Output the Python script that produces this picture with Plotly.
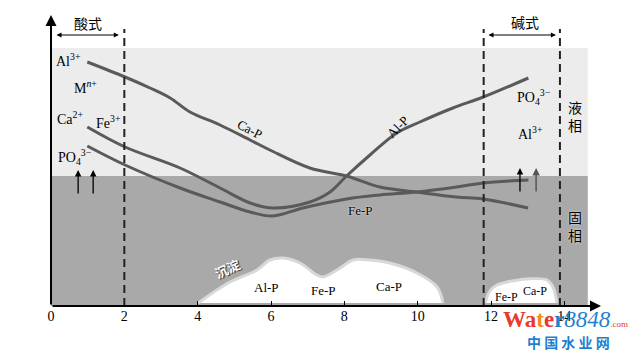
import plotly.graph_objects as go

# ---------------- data ----------------
ph_ticks = [0, 2, 4, 6, 8, 10, 12, 14]

cap_x = [0.99, 2.02, 2.70, 3.25, 3.79, 4.61, 5.43, 5.97, 7.06, 8.06, 8.97, 9.97, 11.06, 11.78, 13.01]
cap_y = [244, 229, 218, 208, 194, 181, 166, 156, 138, 130, 119, 114, 109, 107, 98]

alp_x = [0.99, 2.02, 3.52, 4.61, 5.43, 6.05, 7.06, 7.61, 8.06, 8.70, 9.43, 10.06, 10.96, 11.79, 13.02]
alp_y = [179, 159, 138, 118, 103, 98, 104, 114, 130, 151, 173, 184, 198, 209, 228]

fep_x = [0.99, 2.02, 3.52, 4.61, 5.43, 6.05, 6.87, 8.06, 8.97, 9.97, 11.06, 11.79, 13.02]
fep_y = [160, 141, 118, 104, 94, 90, 98, 107, 111, 114, 119, 123, 126]

blob1_x = [4.01, 4.88, 5.62, 5.97, 6.33, 6.79, 7.25, 7.42, 7.80, 8.24, 8.70, 9.24, 9.98, 10.53, 10.69]
blob1_y = [3, 24, 36, 46, 48, 43, 31, 29, 36, 46, 46, 43, 33, 19, 3]

blob2_x = [11.84, 11.97, 12.16, 12.44, 12.98, 13.53, 13.69, 13.80]
blob2_y = [3, 15, 21, 24, 27, 26, 19, 3]

acid_line = 2.0
base_lines = [11.8, 13.88]

SERIF = "Liberation Serif, Times New Roman, serif"
CJK = "Noto Sans CJK SC"
CURVE = "#5a5a5a"

fig = go.Figure()

# backgrounds
fig.add_shape(type="rect", x0=0, x1=14.64, y0=130, y1=258, fillcolor="#ececec", line_width=0, layer="below")
fig.add_shape(type="rect", x0=0, x1=14.64, y0=0, y1=130, fillcolor="#a9a9a9", line_width=0, layer="below")

# precipitation blobs
for bx, by in [(blob1_x, blob1_y), (blob2_x, blob2_y)]:
    fig.add_trace(go.Scatter(x=bx, y=by, mode="lines", fill="toself", fillcolor="white",
                             line=dict(color="#d8d8d8", width=3, shape="spline", smoothing=1),
                             hoverinfo="skip", showlegend=False))

# curves
for cx, cy in [(cap_x, cap_y), (alp_x, alp_y), (fep_x, fep_y)]:
    fig.add_trace(go.Scatter(x=cx, y=cy, mode="lines",
                             line=dict(color=CURVE, width=3, shape="spline", smoothing=1),
                             hoverinfo="skip", showlegend=False))

# dashed lines
for xv in [acid_line] + base_lines:
    fig.add_shape(type="line", x0=xv, x1=xv, y0=0, y1=277,
                  line=dict(color="#222222", width=2, dash="8px,5px"))

ann = []
def txt(x, y, t, size=13, color="black", font=SERIF, angle=0, shadow=None):
    f = dict(family=font, size=size, color=color)
    if shadow:
        f["shadow"] = shadow
    ann.append(dict(x=x, y=y, text=t, showarrow=False, font=f, textangle=angle,
                    xref="x", yref="y"))

def arrow(x0, y0, x1, y1, width=1.2, color="black", both=False, size=1):
    ann.append(dict(x=x1, y=y1, ax=x0, ay=y0, axref="x", ayref="y", xref="x", yref="y",
                    text="", showarrow=True, arrowhead=2, arrowsize=size, arrowwidth=width,
                    arrowcolor=color, arrowside="end+start" if both else "end"))

# axes with arrows
arrow(0, 0, 0, 291, width=2, size=1.1)
arrow(0, 0, 15, 0, width=2, size=1.1)

# acid / base ranges
arrow(0.11, 271, 1.85, 271, width=1, both=True)
arrow(11.89, 271, 13.77, 271, width=1, both=True)
txt(1.0, 283, "酸式", 14, font=CJK)
txt(12.93, 284, "碱式", 14, font=CJK)

# ion labels left
txt(0.47, 246, "Al<sup>3+</sup>", 14)
txt(0.95, 219, "M<sup><i>n</i>+</sup>", 14)
txt(0.52, 188, "Ca<sup>2+</sup>", 14)
txt(1.57, 184, "Fe<sup>3+</sup>", 14)
txt(0.65, 149, "PO<sub>4</sub><sup>3−</sup>", 14)
arrow(0.74, 111, 0.74, 136, width=1.3)
arrow(1.15, 111, 1.15, 136, width=1.3)

# ion labels right
txt(13.18, 209, "PO<sub>4</sub><sup>3−</sup>", 14)
txt(13.07, 173, "Al<sup>3+</sup>", 14)
arrow(12.79, 113, 12.79, 138, width=1.3)
arrow(13.23, 113, 13.23, 138, width=1.5, color="#555555")

# phase labels
txt(14.29, 190, "液<br>相", 14, font=CJK)
txt(14.29, 80, "固<br>相", 14, font=CJK, shadow="0 0 2px white")

# curve labels
txt(5.43, 177, "Ca-P", 13, angle=28)
txt(9.46, 180, "Al-P", 13, angle=-45)
txt(8.45, 96, "Fe-P", 13, shadow="0 0 2px white")
txt(4.80, 38, "<b>沉淀</b>", 13, color="white", font=CJK, angle=-25,
    shadow="1px 1px 1px #222")

# precipitate labels
txt(5.87, 19, "Al-P", 13)
txt(7.42, 16, "Fe-P", 13)
txt(9.22, 20, "Ca-P", 13)
txt(12.43, 9, "Fe-P", 12)
txt(13.20, 15, "Ca-P", 12)

# axis title
ann.append(dict(x=-0.44, y=142, text="溶解度", showarrow=False, textangle=-90,
                font=dict(family=CJK, size=13, color="black"), xref="x", yref="y"))
txt(7.1, -31, "pH", 14)

# watermark
ann.append(dict(xref="paper", yref="paper", x=0.935, y=-0.045, showarrow=False,
                text="<b><span style='color:#e8392f'>Wa</span><span style='color:#f08c1a'>t</span>"
                     "<span style='color:#e8392f'>e</span><span style='color:#1e7fd0'>r</span></b>"
                     "<i><span style='color:#1e7fd0'>8848</span></i>"
                     "<span style='color:#e8392f;font-size:9px'>.com</span>",
                font=dict(family=SERIF, size=23), xanchor="center", yanchor="middle"))
ann.append(dict(xref="paper", yref="paper", x=0.94, y=-0.125, showarrow=False,
                text="<b>中 国 水 业 网</b>", font=dict(family=CJK, size=14, color="#1e7fd0"),
                xanchor="center", yanchor="middle"))

fig.update_layout(
    width=633, height=353,
    margin=dict(l=51, r=32, t=15, b=47),
    paper_bgcolor="white", plot_bgcolor="white",
    showlegend=False,
    annotations=ann,
    xaxis=dict(range=[0, 15], tickvals=ph_ticks, ticks="inside", ticklen=5, tickwidth=1,
               tickcolor="black", showgrid=False, zeroline=False, showline=False,
               tickfont=dict(family=SERIF, size=14, color="black")),
    yaxis=dict(range=[0, 291], showticklabels=False, ticks="", showgrid=False,
               zeroline=False, showline=False),
)

fig.write_html("out.html")
